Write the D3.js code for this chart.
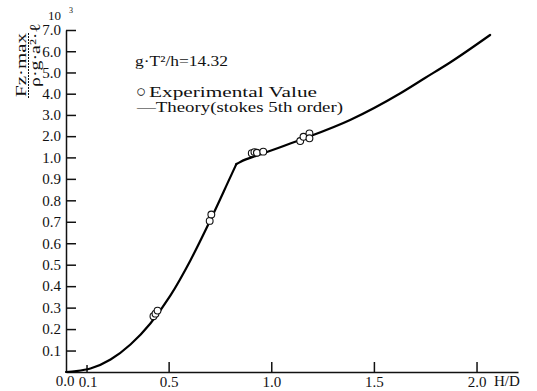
<!DOCTYPE html>
<html>
<head>
<meta charset="utf-8">
<script src="https://cdn.jsdelivr.net/npm/d3@7"></script>
<style>
  body { margin: 0; background: #fff; }
  text { font-family: "Liberation Serif", "DejaVu Serif", serif; fill: #111; }
  .axis path, .axis line { stroke: #111; stroke-width: 1.5px; }
  .axis text { font-family: "Liberation Serif", serif; }
  .theory { fill: none; stroke: #000; stroke-width: 2.2px; stroke-linejoin: round; stroke-linecap: round; }
  .exp { fill: #fff; stroke: #111; stroke-width: 1.1px; }
</style>
</head>
<body>
<div id="chart"></div>
<script>
// theory curve (stokes 5th order), H/D vs Fz max ratio (x10^3)
var theoryLowX = [0, 0.05, 0.119, 0.217, 0.314, 0.411, 0.509, 0.606, 0.703, 0.800, 0.830];
var theoryLowY = [0, 0.004, 0.016, 0.058, 0.128, 0.226, 0.357, 0.520, 0.707, 0.907, 0.969];
var theoryHighX = [0.830, 0.849, 0.945, 1.140, 1.384, 1.627, 1.749, 1.871, 2.066];
var theoryHighY = [0.969, 0.979, 1.137, 1.820, 2.762, 4.010, 4.740, 5.470, 6.765];

// experimental values
var expX = [0.426, 0.436, 0.446, 0.700, 0.708, 0.905, 0.918, 0.930, 0.961, 1.141, 1.157, 1.186, 1.186];
var expY = [0.260, 0.272, 0.286, 0.704, 0.734, 1.20, 1.25, 1.22, 1.27, 1.77, 1.97, 2.13, 1.90];

var xTicks = [0.1, 0.5, 1.0, 1.5, 2.0];
var xTickLabels = ["0.1", "0.5", "1.0", "1.5", "2.0"];
var yTicks = [0.1, 0.2, 0.3, 0.4, 0.5, 0.6, 0.7, 0.8, 0.9, 1, 2, 3, 4, 5, 6, 7];
var yTickLabels = ["0.1", "0.2", "0.3", "0.4", "0.5", "0.6", "0.7", "0.8", "0.9",
                   "1.0", "2.0", "3.0", "4.0", "5.0", "6.0", "7.0"];

var width = 537, height = 391;

var svg = d3.select("#chart").append("svg")
  .attr("width", width)
  .attr("height", height);

var x = d3.scaleLinear().domain([0, 2.202]).range([66, 518]);
// broken scale: 0-1 in steps of 0.1, then 1-7 in steps of 1, same spacing
var y = d3.scaleLinear().domain([0, 1, 7]).range([372, 157.4, 30]);

var xAxis = d3.axisBottom(x)
  .tickValues(xTicks)
  .tickFormat(function (d, i) { return xTickLabels[i]; })
  .tickSizeInner(-10)
  .tickSizeOuter(0)
  .tickPadding(4);

var gx = svg.append("g")
  .attr("class", "axis")
  .attr("transform", "translate(0," + y(0) + ")")
  .call(xAxis);
gx.selectAll("text").style("font-size", "15px");
gx.selectAll(".tick").filter(function (d) { return d === 0.1; })
  .select("line").attr("y2", -7);
gx.select(".tick").select("text").attr("dx", 1);

var yAxis = d3.axisLeft(y)
  .tickValues(yTicks)
  .tickFormat(function (d, i) { return yTickLabels[i]; })
  .tickSizeInner(-10)
  .tickSizeOuter(0)
  .tickPadding(5);

var gy = svg.append("g")
  .attr("class", "axis")
  .attr("transform", "translate(" + x(0) + ",0)")
  .call(yAxis);
gy.selectAll("text").style("font-size", "15px");

// 0.0 origin label and axis names
svg.append("text")
  .attr("x", x(0) - 1).attr("y", 386)
  .attr("text-anchor", "middle")
  .style("font-size", "15px")
  .text("0.0");

svg.append("text")
  .attr("x", 494).attr("y", 386)
  .style("font-size", "15px")
  .text("H/D");

svg.append("text")
  .attr("x", 48).attr("y", 20)
  .style("font-size", "13px")
  .text("10");
svg.append("text")
  .attr("x", 69).attr("y", 13)
  .style("font-size", "8px")
  .text("3");

// y label as rotated fraction
var ylab = svg.append("g");
ylab.append("text")
  .attr("transform", "translate(26,65) rotate(-90)")
  .attr("text-anchor", "middle")
  .style("font-size", "15px")
  .attr("textLength", 64)
  .attr("lengthAdjust", "spacingAndGlyphs")
  .text("Fz·max");
ylab.append("line")
  .attr("x1", 28.5).attr("x2", 28.5)
  .attr("y1", 33).attr("y2", 98)
  .attr("stroke", "#111")
  .attr("stroke-width", 1)
  .attr("stroke-dasharray", "2,1");
ylab.append("text")
  .attr("transform", "translate(40,55) rotate(-90)")
  .attr("text-anchor", "middle")
  .style("font-size", "15px")
  .attr("textLength", 64)
  .attr("lengthAdjust", "spacingAndGlyphs")
  .text("ρ·g·a²·ℓ");

// annotations
svg.append("text")
  .attr("x", 135).attr("y", 66)
  .style("font-size", "15px")
  .attr("textLength", 93)
  .attr("lengthAdjust", "spacingAndGlyphs")
  .text("g·T²/h=14.32");

svg.append("text")
  .attr("x", 136).attr("y", 97)
  .style("font-size", "17px")
  .text("○");
svg.append("text")
  .attr("x", 149).attr("y", 97)
  .style("font-size", "15px")
  .attr("textLength", 168)
  .attr("lengthAdjust", "spacingAndGlyphs")
  .text("Experimental Value");

svg.append("text")
  .attr("x", 137).attr("y", 112)
  .style("font-size", "15px")
  .attr("textLength", 206)
  .attr("lengthAdjust", "spacingAndGlyphs")
  .text("—Theory(stokes 5th order)");

// theory curve, drawn in two pieces to keep the kink at 1.0
var line = d3.line()
  .x(function (d) { return x(d[0]); })
  .y(function (d) { return y(d[1]); })
  .curve(d3.curveMonotoneX);

svg.append("path")
  .attr("class", "theory")
  .attr("d", line(d3.zip(theoryLowX, theoryLowY)));
svg.append("path")
  .attr("class", "theory")
  .attr("d", line(d3.zip(theoryHighX, theoryHighY)));

svg.selectAll("circle.exp")
  .data(d3.zip(expX, expY))
  .enter().append("circle")
  .attr("class", "exp")
  .attr("cx", function (d) { return x(d[0]); })
  .attr("cy", function (d) { return y(d[1]); })
  .attr("r", 3.4);
</script>
</body>
</html>
